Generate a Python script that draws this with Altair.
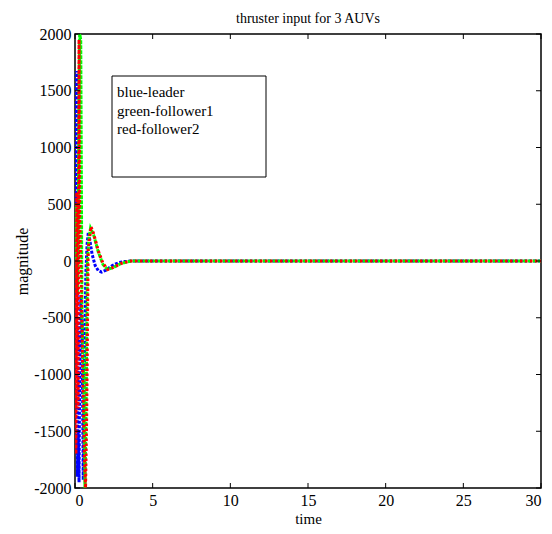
import altair as alt
import pandas as pd

# ---- data ----
blue_t = [0, 0.05, 0.11, 0.16, 0.2, 0.26, 0.3, 0.38, 0.45, 0.53, 0.6, 0.7, 0.78, 0.86, 0.95, 1.1, 1.3, 1.5, 1.71, 2.0, 2.4, 2.8, 3.2, 3.6, 30]
blue_v = [0, -300, 1675, -1900, -1500, -1950, -1000, -300, -500, -1930, -1000, -100, 150, 253, 190, 60, -40, -85, -98, -80, -40, -15, -5, 0, 0]

green_t = [0, 0.08, 0.15, 0.22, 0.3, 0.37, 0.45, 0.55, 0.64, 0.7, 0.8, 0.9, 1.0, 1.2, 1.5, 1.8, 2.1, 2.5, 3.0, 3.6, 30]
green_v = [0, 500, -300, 600, 2000, 1950, -500, -1000, -2000, -1500, 0, 200, 290, 230, 80, -30, -75, -55, -20, 0, 0]

red_t = [0, 0.06, 0.12, 0.2, 0.26, 0.3, 0.4, 0.5, 0.6, 0.68, 0.75, 0.85, 1.03, 1.2, 1.5, 1.8, 2.1, 2.5, 3.0, 3.6, 30]
red_v = [0, -1700, 605, -1300, 1950, 400, -200, -1000, -1700, -2000, -1400, 100, 303, 240, 90, -20, -75, -55, -20, 0, 0]

x_ticks = [0, 5, 10, 15, 20, 25, 30]
y_ticks = [-2000, -1500, -1000, -500, 0, 500, 1000, 1500, 2000]
legend_lines = ["blue-leader", "green-follower1", "red-follower2"]

W, H = 466, 454
FONT = "Liberation Serif"

xs = alt.Scale(domain=[0, 30], nice=False)
ys = alt.Scale(domain=[-2000, 2000], nice=False)


def series(t, v, color, dash, width):
    df = pd.DataFrame({"t": t, "v": v})
    return alt.Chart(df).mark_line(
        color=color, strokeWidth=width, strokeDash=dash, clip=True
    ).encode(
        x=alt.X("t:Q", scale=xs, axis=alt.Axis(values=x_ticks, title="time",
                                                 labelPadding=4, titlePadding=3,
                                                 titleFontSize=15)),
        y=alt.Y("v:Q", scale=ys, axis=alt.Axis(values=y_ticks, title="magnitude",
                                                 labelPadding=4, titlePadding=3,
                                                 titleFontSize=16,
                                                 labelExpr="toString(datum.value)")),
        order=alt.Order("t:Q"),
    )


blue = series(blue_t, blue_v, "#0000ff", [3, 1.5], 3)
green = series(green_t, green_v, "#00ff00", [4, 1], 3)
red = series(red_t, red_v, "#ff0000", [2.5, 2.5], 3)

xt = pd.DataFrame({"t": x_ticks})
yt = pd.DataFrame({"v": y_ticks})
xtick_b = alt.Chart(xt).mark_rule(color="black").encode(
    x=alt.X("t:Q", scale=xs), y=alt.value(H), y2=alt.value(H - 5))
xtick_t = alt.Chart(xt).mark_rule(color="black").encode(
    x=alt.X("t:Q", scale=xs), y=alt.value(0), y2=alt.value(5))
ytick_l = alt.Chart(yt).mark_rule(color="black").encode(
    y=alt.Y("v:Q", scale=ys), x=alt.value(0), x2=alt.value(5))
ytick_r = alt.Chart(yt).mark_rule(color="black").encode(
    y=alt.Y("v:Q", scale=ys), x=alt.value(W), x2=alt.value(W - 5))

one = pd.DataFrame({"a": [0]})
box = alt.Chart(one).mark_rect(fill="white", stroke="black", strokeWidth=1).encode(
    x=alt.value(37), x2=alt.value(191), y=alt.value(42), y2=alt.value(143))
legtext = alt.Chart(one).mark_text(
    align="left", baseline="top", font=FONT, fontSize=15, lineHeight=18.5, color="black"
).encode(x=alt.value(42), y=alt.value(51), text=alt.value(legend_lines))

chart = alt.layer(
    blue, green, red, xtick_b, xtick_t, ytick_l, ytick_r, box, legtext
).properties(
    width=W, height=H,
    title=alt.TitleParams("thruster input for 3 AUVs", font=FONT, fontSize=14,
                          fontWeight="normal", offset=0, anchor="middle", color="black"),
    autosize=alt.AutoSizeParams(type="none"),
    padding={"left": 67, "top": 26, "right": 3, "bottom": 38},
    background="white",
).configure_view(
    stroke="black", strokeWidth=1.5
).configure_axis(
    grid=False, ticks=False, domain=False,
    labelFont=FONT, labelFontSize=16, labelColor="black",
    titleFont=FONT, titleFontWeight="normal", titleColor="black",
)

chart.save("out.html", embed_options={"renderer": "svg", "actions": False})
